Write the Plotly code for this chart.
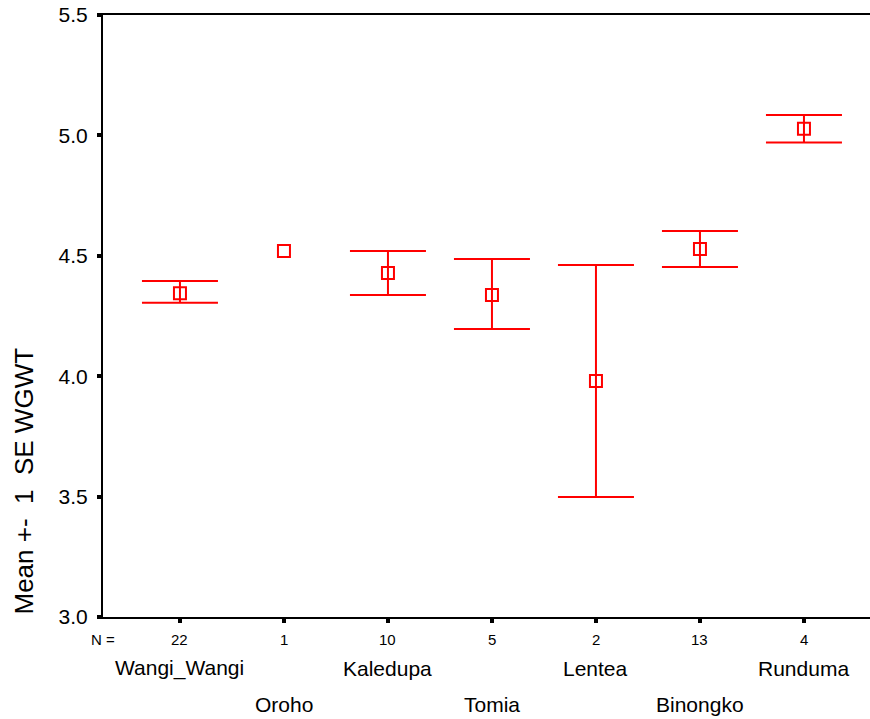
import plotly.graph_objects as go

categories = ["Wangi_Wangi", "Oroho", "Kaledupa", "Tomia", "Lentea", "Binongko", "Runduma"]
counts = [22, 1, 10, 5, 2, 13, 4]
means = [4.344, 4.520, 4.429, 4.337, 3.980, 4.528, 5.028]
upper = [4.395, None, 4.520, 4.487, 4.462, 4.603, 5.085]
lower = [4.305, None, 4.337, 4.196, 3.498, 4.453, 4.970]

xs = list(range(len(categories)))
RED = "#FF0000"
FONT = "Liberation Sans, Arial, sans-serif"

# points with a standard error
idx_e = [i for i in xs if upper[i] is not None]
idx_n = [i for i in xs if upper[i] is None]

fig = go.Figure()
fig.add_trace(go.Scatter(
    x=[xs[i] for i in idx_e], y=[means[i] for i in idx_e], mode="markers",
    marker=dict(symbol="square-open", size=12, color=RED, line=dict(width=2, color=RED)),
    error_y=dict(type="data", symmetric=False,
                 array=[upper[i] - means[i] for i in idx_e],
                 arrayminus=[means[i] - lower[i] for i in idx_e],
                 color=RED, thickness=2, width=38),
    showlegend=False, hoverinfo="skip",
))
fig.add_trace(go.Scatter(
    x=[xs[i] for i in idx_n], y=[means[i] for i in idx_n], mode="markers",
    marker=dict(symbol="square-open", size=12, color=RED, line=dict(width=2, color=RED)),
    showlegend=False, hoverinfo="skip",
))

annotations = []
annotations.append(dict(x=-0.74, y=0, xref="x", yref="paper", yshift=-22, text="N =",
                        showarrow=False, font=dict(size=15, color="black", family=FONT),
                        xanchor="center", yanchor="middle"))
for i, (c, n) in enumerate(zip(categories, counts)):
    annotations.append(dict(x=i, y=0, xref="x", yref="paper", yshift=-22, text=str(n),
                            showarrow=False, font=dict(size=15, color="black", family=FONT),
                            xanchor="center", yanchor="middle"))
    annotations.append(dict(x=i, y=0, xref="x", yref="paper", yshift=(-51 if i % 2 == 0 else -87),
                            text=c, showarrow=False, font=dict(size=21, color="black", family=FONT),
                            xanchor="center", yanchor="middle"))
annotations.append(dict(x=0, y=(617 - 481.5) / 602, xref="paper", yref="paper", xshift=-80,
                        text="Mean +-\u00a0 1\u00a0 SE WGWT", textangle=-90, showarrow=False,
                        font=dict(size=26, color="black", family=FONT),
                        xanchor="center", yanchor="middle"))

fig.update_layout(
    width=870, height=719,
    margin=dict(l=103, r=0, t=15, b=102, autoexpand=False),
    paper_bgcolor="white", plot_bgcolor="white",
    font=dict(family=FONT, color="black"),
    annotations=annotations,
)
fig.update_xaxes(
    range=[-0.74, 6.635], tickmode="array", tickvals=xs, showticklabels=False,
    ticks="outside", ticklen=4, tickwidth=4, tickcolor="black",
    showline=True, linecolor="black", linewidth=2, mirror=True,
    showgrid=False, zeroline=False, fixedrange=True,
)
fig.update_yaxes(
    range=[3.0, 5.5], tickmode="linear", tick0=3.0, dtick=0.5, tickformat=".1f",
    ticks="outside", ticklen=4, tickwidth=4, tickcolor="black",
    tickfont=dict(size=21, color="black", family=FONT), ticklabelstandoff=5,
    showline=True, linecolor="black", linewidth=2,
    showgrid=False, zeroline=False, fixedrange=True,
)

fig.write_html("out.html", config={"displayModeBar": False},
               post_script="document.body.style.margin='0';document.body.style.overflow='hidden';")
